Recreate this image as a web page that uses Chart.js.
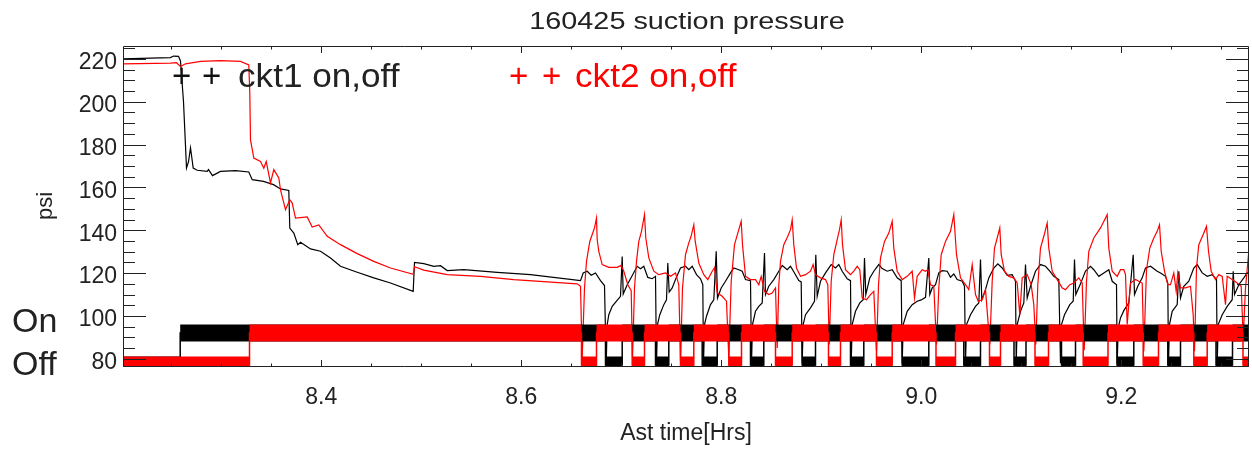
<!DOCTYPE html>
<html>
<head>
<meta charset="utf-8">
<script src="https://cdn.jsdelivr.net/npm/chart.js@4.4.1/dist/chart.umd.min.js"></script>
<style>
  html, body { margin: 0; padding: 0; background: #fff; }
  canvas { display: block; }
</style>
</head>
<body>
<canvas id="pressureChart" width="1252" height="450"></canvas>
<script>
// axis limits and tick values
const X_MIN = 8.2018, X_MAX = 9.3278;
const Y_MIN = 76.2, Y_MAX = 226.0;
const xTicks = [8.4, 8.6, 8.8, 9.0, 9.2];
const xMinorTicks = [8.25, 8.3, 8.35, 8.45, 8.5, 8.55, 8.65, 8.7, 8.75, 8.85, 8.9, 8.95, 9.05, 9.1, 9.15, 9.25, 9.3];
const yTicks = [80, 100, 120, 140, 160, 180, 200, 220];
const yMinorTicks = [85, 90, 95, 105, 110, 115, 125, 130, 135, 145, 150, 155, 165, 170, 175, 185, 190, 195, 205, 210, 215, 225];

// on/off marker levels (psi)
const ON_LEVEL = 92.1, OFF_LEVEL = 77.1;

// ckt1 (black) suction pressure
const ckt1Time = [
  8.2018, 8.2293, 8.2493, 8.2523, 8.2573, 8.2593, 8.2623, 8.2653, 8.2673, 8.2693, 8.2720, 8.2760, 8.2860, 8.2873,
  8.2913, 8.2993, 8.3143, 8.3276, 8.3310, 8.3423, 8.3523, 8.3593, 8.3676, 8.3686, 8.3726, 8.3766, 8.3793, 8.3893,
  8.3993, 8.4093, 8.4193, 8.4360, 8.4526, 8.4693, 8.4920, 8.4933, 8.5026, 8.5126, 8.5193, 8.5260, 8.5426, 8.5760,
  8.6093, 8.6593, 8.6620, 8.6660, 8.6700, 8.6743, 8.6793, 8.6833, 8.6850, 8.6860, 8.6876, 8.6910, 8.6953, 8.6993,
  8.7010, 8.7020, 8.7060, 8.7100, 8.7160, 8.7193, 8.7226, 8.7266, 8.7310, 8.7343, 8.7353, 8.7363, 8.7386, 8.7426,
  8.7453, 8.7466, 8.7480, 8.7510, 8.7543, 8.7593, 8.7643, 8.7676, 8.7710, 8.7753, 8.7793, 8.7816, 8.7823, 8.7833,
  8.7853, 8.7893, 8.7926, 8.7950, 8.7963, 8.8000, 8.8043, 8.8093, 8.8126, 8.8176, 8.8210, 8.8243, 8.8293, 8.8303,
  8.8313, 8.8343, 8.8376, 8.8410, 8.8433, 8.8443, 8.8476, 8.8526, 8.8576, 8.8610, 8.8660, 8.8693, 8.8733, 8.8776,
  8.8800, 8.8810, 8.8820, 8.8843, 8.8893, 8.8933, 8.8946, 8.8960, 8.8993, 8.9043, 8.9100, 8.9143, 8.9176, 8.9210,
  8.9260, 8.9293, 8.9300, 8.9310, 8.9343, 8.9386, 8.9420, 8.9433, 8.9446, 8.9486, 8.9526, 8.9576, 8.9610, 8.9660,
  8.9710, 8.9760, 8.9800, 8.9810, 8.9820, 8.9860, 8.9910, 8.9960, 9.0000, 9.0043, 9.0076, 9.0086, 9.0110, 9.0143,
  9.0176, 9.0210, 9.0260, 9.0293, 9.0326, 9.0360, 9.0410, 9.0433, 9.0443, 9.0453, 9.0493, 9.0543, 9.0576, 9.0593,
  9.0606, 9.0643, 9.0676, 9.0726, 9.0766, 9.0810, 9.0860, 9.0910, 9.0943, 9.0950, 9.0960, 9.0993, 9.1026, 9.1043,
  9.1060, 9.1093, 9.1143, 9.1193, 9.1243, 9.1286, 9.1326, 9.1376, 9.1393, 9.1403, 9.1433, 9.1486, 9.1520, 9.1533,
  9.1546, 9.1593, 9.1643, 9.1693, 9.1726, 9.1776, 9.1826, 9.1876, 9.1910, 9.1953, 9.1960, 9.1970, 9.1993, 9.2026,
  9.2076, 9.2120, 9.2133, 9.2166, 9.2210, 9.2243, 9.2293, 9.2360, 9.2393, 9.2443, 9.2466, 9.2473, 9.2483, 9.2510,
  9.2560, 9.2576, 9.2593, 9.2626, 9.2676, 9.2726, 9.2760, 9.2810, 9.2860, 9.2910, 9.2953, 9.2960, 9.2970, 9.3010,
  9.3060, 9.3110, 9.3120, 9.3133, 9.3176, 9.3226, 9.3260, 9.3286
];
const ckt1Psi = [
  220.0, 220.3, 220.6, 221.3, 221.2, 219.0, 200.0, 169.0, 172.0, 178.5, 169.0, 168.0, 167.5, 168.3,
  165.5, 167.5, 167.8, 167.2, 163.6, 162.8, 161.3, 159.3, 158.6, 141.0, 138.7, 133.3, 134.4, 131.3,
  130.2, 127.1, 123.2, 120.4, 117.8, 115.4, 111.5, 125.0, 124.4, 123.2, 123.5, 121.2, 121.6, 120.4,
  119.3, 116.5, 120.1, 120.9, 119.0, 120.1, 116.5, 114.2, 78.0, 96.0, 100.6, 104.5, 106.9, 109.2,
  127.8, 110.3, 114.6, 118.0, 123.2, 122.1, 123.2, 118.0, 117.4, 118.5, 78.0, 96.0, 100.6, 105.3,
  107.6, 124.7, 111.2, 113.1, 117.0, 122.4, 123.2, 121.6, 123.2, 119.3, 117.4, 114.6, 78.0, 96.0,
  99.9, 105.3, 107.6, 130.2, 108.4, 113.1, 116.2, 120.1, 122.4, 121.6, 120.9, 117.0, 116.5, 78.0,
  96.0, 102.2, 104.5, 106.1, 129.4, 110.0, 113.9, 117.0, 120.9, 123.6, 121.6, 123.2, 120.1, 116.5,
  115.9, 78.0, 96.0, 100.6, 103.8, 106.9, 128.6, 109.2, 116.2, 120.1, 124.0, 122.4, 124.0, 120.9,
  117.4, 116.5, 78.0, 96.0, 102.2, 106.1, 107.6, 127.1, 110.0, 117.8, 120.9, 124.0, 122.1, 120.9,
  121.6, 117.8, 116.5, 78.0, 96.0, 102.2, 105.3, 106.9, 107.5, 108.7, 127.1, 110.0, 113.1, 114.6,
  120.1, 121.2, 120.9, 118.1, 119.6, 117.0, 116.2, 113.9, 78.0, 96.0, 100.6, 104.5, 106.1, 126.3,
  107.6, 112.3, 117.8, 122.4, 124.3, 122.4, 119.0, 119.3, 116.2, 78.0, 96.0, 102.2, 106.1, 124.0,
  108.4, 113.9, 120.9, 124.0, 123.2, 120.9, 118.5, 117.0, 78.0, 96.0, 100.6, 105.3, 106.9, 126.3,
  110.0, 115.0, 121.0, 123.2, 121.6, 118.5, 120.1, 121.6, 116.2, 114.6, 78.0, 94.4, 99.1, 102.5,
  106.1, 128.6, 110.0, 113.9, 117.8, 122.4, 123.2, 120.9, 120.1, 118.5, 115.4, 78.0, 96.0, 102.2,
  105.3, 120.9, 108.4, 113.9, 116.2, 122.4, 124.0, 120.1, 118.5, 119.3, 117.0, 78.0, 96.0, 100.6,
  104.5, 107.6, 120.9, 110.0, 114.6, 117.8, 120.1, 120.9
];

// ckt2 (red) suction pressure
const ckt2Time = [
  8.2018, 8.2493, 8.2553, 8.2593, 8.2643, 8.2793, 8.2993, 8.3193, 8.3276, 8.3286, 8.3293, 8.3326, 8.3393, 8.3426,
  8.3450, 8.3493, 8.3526, 8.3576, 8.3593, 8.3643, 8.3686, 8.3710, 8.3743, 8.3860, 8.3910, 8.3976, 8.4060, 8.4193,
  8.4360, 8.4526, 8.4693, 8.4920, 8.4933, 8.5026, 8.5260, 8.5593, 8.5926, 8.6560, 8.6593, 8.6610, 8.6633, 8.6653,
  8.6686, 8.6710, 8.6733, 8.6753, 8.6760, 8.6776, 8.6810, 8.6876, 8.6960, 8.6999, 8.7026, 8.7066, 8.7100, 8.7113,
  8.7133, 8.7153, 8.7176, 8.7203, 8.7233, 8.7246, 8.7276, 8.7326, 8.7376, 8.7443, 8.7493, 8.7543, 8.7576, 8.7593,
  8.7613, 8.7643, 8.7676, 8.7699, 8.7726, 8.7740, 8.7776, 8.7826, 8.7866, 8.7910, 8.7933, 8.7960, 8.8010, 8.8053,
  8.8076, 8.8100, 8.8133, 8.8166, 8.8200, 8.8213, 8.8243, 8.8293, 8.8343, 8.8376, 8.8400, 8.8433, 8.8476, 8.8510,
  8.8543, 8.8560, 8.8576, 8.8593, 8.8626, 8.8666, 8.8693, 8.8710, 8.8726, 8.8753, 8.8793, 8.8843, 8.8893, 8.8919,
  8.8943, 8.8993, 8.9043, 8.9066, 8.9080, 8.9100, 8.9126, 8.9160, 8.9183, 8.9200, 8.9213, 8.9243, 8.9293, 8.9326,
  8.9360, 8.9386, 8.9410, 8.9453, 8.9493, 8.9526, 8.9553, 8.9573, 8.9593, 8.9633, 8.9676, 8.9710, 8.9726, 8.9760,
  8.9810, 8.9860, 8.9910, 8.9933, 8.9960, 9.0010, 9.0043, 9.0066, 9.0093, 9.0126, 9.0153, 9.0176, 9.0200, 9.0243,
  9.0293, 9.0326, 9.0353, 9.0393, 9.0443, 9.0476, 9.0510, 9.0543, 9.0570, 9.0610, 9.0643, 9.0686, 9.0710, 9.0733,
  9.0760, 9.0786, 9.0800, 9.0833, 9.0876, 9.0926, 9.0960, 9.0986, 9.1010, 9.1060, 9.1100, 9.1126, 9.1146, 9.1166,
  9.1193, 9.1226, 9.1260, 9.1276, 9.1310, 9.1360, 9.1410, 9.1443, 9.1486, 9.1526, 9.1576, 9.1610, 9.1630, 9.1653,
  9.1676, 9.1726, 9.1793, 9.1860, 9.1876, 9.1910, 9.1960, 9.1993, 9.2026, 9.2043, 9.2060, 9.2093, 9.2143, 9.2176,
  9.2210, 9.2226, 9.2253, 9.2286, 9.2326, 9.2360, 9.2383, 9.2400, 9.2433, 9.2466, 9.2493, 9.2526, 9.2550, 9.2566,
  9.2593, 9.2643, 9.2693, 9.2720, 9.2733, 9.2753, 9.2776, 9.2820, 9.2853, 9.2873, 9.2900, 9.2943, 9.2976, 9.3010,
  9.3043, 9.3060, 9.3110, 9.3160, 9.3200, 9.3220, 9.3243, 9.3276, 9.3286
];
const ckt2Psi = [
  217.7, 218.0, 218.2, 216.4, 217.7, 218.8, 219.2, 218.8, 217.2, 204.0, 182.2, 173.7, 172.1, 169.0,
  172.1, 162.1, 168.3, 164.4, 158.9, 149.6, 154.3, 152.7, 145.7, 146.2, 141.5, 142.5, 137.2, 133.3,
  129.1, 125.5, 122.4, 119.5, 123.0, 121.4, 119.3, 118.5, 117.0, 115.0, 113.9, 80.4, 113.1, 125.5,
  134.8, 138.0, 141.1, 145.7, 135.6, 130.2, 124.0, 122.7, 122.7, 123.6, 120.9, 114.6, 111.8, 80.4,
  113.1, 125.5, 134.8, 139.5, 147.3, 136.4, 127.1, 120.9, 119.3, 120.1, 118.5, 120.1, 114.6, 78.9,
  113.1, 128.6, 134.1, 137.2, 142.6, 134.9, 124.7, 119.3, 117.0, 120.9, 122.5, 110.8, 109.2, 106.9,
  80.4, 116.2, 133.3, 138.7, 144.2, 133.3, 118.5, 117.0, 117.0, 114.6, 118.5, 111.5, 110.0, 110.7,
  113.1, 85.1, 114.6, 125.5, 133.3, 137.2, 140.3, 144.9, 133.3, 122.4, 118.5, 119.3, 120.9, 124.0,
  119.3, 117.8, 117.0, 114.6, 86.7, 116.2, 128.6, 135.6, 140.3, 144.9, 133.3, 121.6, 119.3, 120.9,
  123.2, 121.6, 108.4, 107.6, 110.0, 111.5, 83.6, 114.6, 127.1, 134.8, 138.7, 144.2, 131.7, 120.9,
  117.0, 118.5, 120.9, 108.4, 118.5, 121.6, 120.9, 121.6, 114.6, 113.9, 86.7, 113.1, 128.6, 134.8,
  139.5, 147.3, 128.6, 117.8, 114.6, 112.3, 124.0, 110.0, 106.9, 107.6, 112.3, 86.7, 116.2, 131.7,
  136.4, 141.1, 128.6, 120.9, 118.5, 117.8, 115.4, 100.6, 117.8, 119.3, 114.6, 105.3, 86.7, 114.6,
  131.7, 137.2, 143.4, 131.7, 120.9, 117.0, 113.1, 112.3, 114.6, 115.4, 117.8, 115.4, 84.0, 116.2,
  130.2, 136.4, 141.1, 147.3, 131.7, 120.9, 118.5, 121.6, 121.6, 119.3, 96.0, 115.4, 117.0, 116.2,
  115.4, 83.6, 121.6, 131.7, 136.4, 139.5, 142.6, 130.2, 120.9, 114.6, 114.6, 120.1, 111.5, 120.1,
  113.1, 113.1, 113.9, 100.6, 83.6, 122.4, 133.3, 138.0, 141.8, 130.2, 120.9, 117.0, 119.3, 118.5,
  105.3, 118.5, 117.0, 115.4, 113.9, 89.8, 113.1, 130.2, 133.0
];

// circuit off periods (hours): start / end
const ckt1OffStart = [8.2018, 8.6843, 8.7343, 8.7810, 8.8293, 8.8810, 8.9293, 8.9810, 9.0426, 9.0928, 9.1403, 9.1958, 9.2466, 9.2948];
const ckt1OffEnd   = [8.2590, 8.7010, 8.7476, 8.7960, 8.8426, 8.8943, 8.9426, 9.0076, 9.0593, 9.1048, 9.1543, 9.2126, 9.2593, 9.3113];
const ckt2OffStart = [8.2018, 8.6603, 8.7110, 8.7593, 8.8076, 8.8543, 8.9073, 8.9553, 9.0148, 9.0683, 9.1138, 9.1620, 9.2220, 9.2726, 9.3218];
const ckt2OffEnd   = [8.3283, 8.6753, 8.7233, 8.7726, 8.8203, 8.8710, 8.9193, 8.9710, 9.0343, 9.0793, 9.1273, 9.1868, 9.2373, 9.2860, 9.3300];

const FONT = '"Liberation Sans", Arial, Helvetica, sans-serif';

function toPoints(ts, vs) {
  return ts.map((t, i) => ({ x: t, y: vs[i] }));
}

// thick bar segments for the on level (gaps where the circuit is off)
function onBand(starts, ends) {
  const pts = [];
  let cur = X_MIN;
  starts.forEach((s, i) => {
    if (s > cur) pts.push({ x: cur, y: ON_LEVEL }, { x: s, y: ON_LEVEL }, { x: s, y: null });
    cur = ends[i];
  });
  if (cur < X_MAX) pts.push({ x: cur, y: ON_LEVEL }, { x: X_MAX, y: ON_LEVEL });
  return pts;
}

function offBand(starts, ends) {
  const pts = [];
  starts.forEach((s, i) => pts.push({ x: s, y: OFF_LEVEL }, { x: ends[i], y: OFF_LEVEL }, { x: ends[i], y: null }));
  return pts;
}

function stateLine(starts, ends) {
  const pts = [];
  starts.forEach((s, i) => pts.push({ x: s, y: OFF_LEVEL }, { x: ends[i], y: ON_LEVEL }));
  return pts;
}

// inward ticks, box frame and free text like the IDL plot
const idlFrame = {
  id: 'idlFrame',
  afterDatasetsDraw(chart) {
    const { ctx, chartArea: a, scales: { x, y } } = chart;
    ctx.save();
    ctx.strokeStyle = '#222';
    ctx.lineWidth = 1;
    ctx.beginPath();
    ctx.rect(a.left + 0.5, a.top + 0.5, a.right - a.left - 1, a.bottom - a.top - 1);
    const hline = (py, len) => {
      py = Math.round(py) + 0.5;
      ctx.moveTo(a.left, py); ctx.lineTo(a.left + len, py);
      ctx.moveTo(a.right, py); ctx.lineTo(a.right - len, py);
    };
    const vline = (px, len) => {
      px = Math.round(px) + 0.5;
      ctx.moveTo(px, a.bottom); ctx.lineTo(px, a.bottom - len);
      ctx.moveTo(px, a.top); ctx.lineTo(px, a.top + len);
    };
    yTicks.forEach(v => hline(y.getPixelForValue(v), 23));
    yMinorTicks.forEach(v => hline(y.getPixelForValue(v), 12));
    xTicks.forEach(v => vline(x.getPixelForValue(v), 7));
    xMinorTicks.forEach(v => vline(x.getPixelForValue(v), 3.5));
    ctx.stroke();
    ctx.restore();
  },
  afterDraw(chart) {
    const { ctx, chartArea: a } = chart;
    const text = (str, px, py, size, color, sx, align, rot) => {
      ctx.save();
      ctx.font = size + 'px ' + FONT;
      ctx.fillStyle = color;
      ctx.textBaseline = 'alphabetic';
      ctx.textAlign = align || 'left';
      ctx.translate(px, py);
      if (rot) ctx.rotate(rot);
      ctx.scale(sx || 1, 1);
      ctx.fillText(str, 0, 0);
      ctx.restore();
    };
    const cx = (a.left + a.right) / 2;
    text('160425 suction pressure', cx + 1, 28.5, 24, '#222', 1.2, 'center');
    text('Ast time[Hrs]', cx, 440, 23, '#222', 1, 'center');
    text('psi', 52, 206, 22, '#222', 1, 'center', -Math.PI / 2);
    text('On', 12, 331.5, 34, '#222');
    text('Off', 12, 375, 34, '#222');
    text('+', 172, 87, 33, '#111');
    text('+', 202, 87, 33, '#111');
    text('ckt1 on,off', 238, 87, 33, '#222', 1.065);
    text('+', 509, 87, 33, '#ff0000');
    text('+', 542, 87, 33, '#ff0000');
    text('ckt2 on,off', 575, 87, 33, '#ff0000', 1.065);
  }
};

const lineBase = { pointRadius: 0, tension: 0, fill: false, spanGaps: false };

new Chart(document.getElementById('pressureChart').getContext('2d'), {
  type: 'line',
  data: {
    datasets: [
      { ...lineBase, label: 'ckt2 on', data: onBand(ckt2OffStart, ckt2OffEnd), borderColor: '#ff0000', borderWidth: 17 },
      { ...lineBase, label: 'ckt2 off', data: offBand(ckt2OffStart, ckt2OffEnd), borderColor: '#ff0000', borderWidth: 17 },
      { ...lineBase, label: 'ckt2 state', data: stateLine(ckt2OffStart, ckt2OffEnd), borderColor: '#ff0000', borderWidth: 1.5, stepped: true },
      { ...lineBase, label: 'ckt1 on', data: onBand(ckt1OffStart, ckt1OffEnd), borderColor: '#000', borderWidth: 17 },
      { ...lineBase, label: 'ckt1 off', data: offBand(ckt1OffStart, ckt1OffEnd), borderColor: '#000', borderWidth: 17 },
      { ...lineBase, label: 'ckt1 state', data: stateLine(ckt1OffStart, ckt1OffEnd), borderColor: '#000', borderWidth: 1.5, stepped: true },
      { ...lineBase, label: 'ckt2 psi', data: toPoints(ckt2Time, ckt2Psi), borderColor: '#ff0000', borderWidth: 1.2 },
      { ...lineBase, label: 'ckt1 psi', data: toPoints(ckt1Time, ckt1Psi), borderColor: '#000', borderWidth: 1.2 }
    ]
  },
  options: {
    responsive: false,
    animation: false,
    devicePixelRatio: 1,
    layout: { padding: { top: 46, right: 3, left: 0, bottom: 0 } },
    plugins: { legend: { display: false }, tooltip: { enabled: false }, title: { display: false } },
    scales: {
      x: {
        type: 'linear', min: X_MIN, max: X_MAX,
        grid: { display: false, drawTicks: false }, border: { display: false },
        afterBuildTicks: s => { s.ticks = xTicks.map(v => ({ value: v })); },
        afterFit: s => { s.height = 83; },
        ticks: { font: { size: 23, family: FONT }, color: '#222', padding: 17, maxRotation: 0, autoSkip: false,
                 callback: v => Number(v).toFixed(1) }
      },
      y: {
        type: 'linear', min: Y_MIN, max: Y_MAX,
        grid: { display: false, drawTicks: false }, border: { display: false },
        afterBuildTicks: s => { s.ticks = yTicks.map(v => ({ value: v })); },
        afterFit: s => { s.width = 123; },
        ticks: { font: { size: 23, family: FONT }, color: '#222', padding: 6, labelOffset: 4, autoSkip: false }
      }
    }
  },
  plugins: [idlFrame]
});
</script>
</body>
</html>
